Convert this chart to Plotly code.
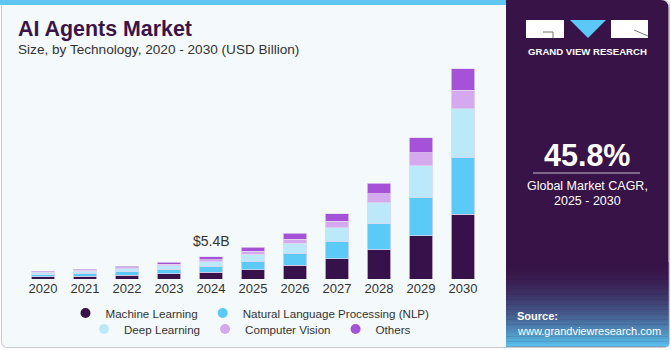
import plotly.graph_objects as go

# ---------------- data ----------------
years = ["2020", "2021", "2022", "2023", "2024", "2025", "2026", "2027", "2028", "2029", "2030"]
machine_learning = [0.58, 0.73, 0.95, 1.25, 1.64, 2.30, 3.35, 4.90, 7.20, 10.6, 15.8]
nlp = [0.51, 0.65, 0.83, 1.10, 1.42, 2.05, 2.95, 4.30, 6.30, 9.40, 14.0]
deep_learning = [0.42, 0.53, 0.68, 0.90, 1.15, 1.70, 2.40, 3.40, 5.20, 7.70, 11.8]
computer_vision = [0.18, 0.23, 0.30, 0.40, 0.50, 0.74, 1.05, 1.55, 2.10, 3.20, 4.60]
others = [0.21, 0.26, 0.34, 0.45, 0.69, 0.98, 1.40, 1.80, 2.60, 3.70, 5.20]

series_names = ["Machine Learning", "Natural Language Processing (NLP)",
                "Deep Learning", "Computer Vision", "Others"]
series_values = [machine_learning, nlp, deep_learning, computer_vision, others]
series_colors = ["#37114a", "#5ccaf6", "#bce9fa", "#d5a9ee", "#a652d8"]

highlight_year = "2024"
highlight_label = "$5.4B"
cagr_text = "45.8%"

# ---------------- layout geometry ----------------
W, H = 671, 350
ML, MR, MT, MB = 22, 187, 55, 71
PW = W - ML - MR
PH = H - MT - MB


def px(x):
    return (x - ML) / PW


def py(y):
    return (H - MB - y) / PH


xpos = list(range(len(years)))

fig = go.Figure()

for name, vals, col in zip(series_names, series_values, series_colors):
    fig.add_trace(go.Bar(
        x=xpos, y=vals, name=name, marker_color=col,
        marker_line=dict(color="rgba(225,215,240,0.9)", width=0.8),
        width=0.55, showlegend=False, hoverinfo="skip"))

# legend entries (circles)
for i, (name, col) in enumerate(zip(series_names, series_colors)):
    fig.add_trace(go.Scatter(
        x=[None], y=[None], mode="markers", name=name,
        marker=dict(color=col, size=10, symbol="circle"), hoverinfo="skip",
        legend="legend" if i < 2 else "legend2"))

totals = [sum(v) for v in zip(*series_values)]
hi = years.index(highlight_year)
fig.add_annotation(x=xpos[hi], y=totals[hi], text=highlight_label,
                   showarrow=False, yanchor="bottom", yshift=6,
                   font=dict(size=14, color="#333333", family="Liberation Sans, Arial"))

shapes = []


def path_rounded(x0, y0, x1, y1, rtl, rtr, rbr, rbl):
    s = f"M {px(x0 + rtl)},{py(y0)} L {px(x1 - rtr)},{py(y0)} "
    s += f"Q {px(x1)},{py(y0)} {px(x1)},{py(y0 + rtr)} "
    s += f"L {px(x1)},{py(y1 - rbr)} Q {px(x1)},{py(y1)} {px(x1 - rbr)},{py(y1)} "
    s += f"L {px(x0 + rbl)},{py(y1)} Q {px(x0)},{py(y1)} {px(x0)},{py(y1 - rbl)} "
    s += f"L {px(x0)},{py(y0 + rtl)} Q {px(x0)},{py(y0)} {px(x0 + rtl)},{py(y0)} Z"
    return s


# card background
shapes.append(dict(type="path", xref="paper", yref="paper", layer="below",
                   path=path_rounded(1.5, 0.5, 669.5, 347.5, 6, 6, 6, 6),
                   fillcolor="#f4f9fc", line=dict(color="#c9c9c9", width=1)))
# top blue stripe
shapes.append(dict(type="rect", xref="paper", yref="paper", layer="below",
                   x0=px(0), x1=px(507), y0=py(0), y1=py(5),
                   fillcolor="#5fc6ef", line=dict(width=0)))
# right panel
shapes.append(dict(type="path", xref="paper", yref="paper", layer="below",
                   path=path_rounded(506, 0, 668.5, 346.5, 0, 8, 4, 0),
                   fillcolor="#371347", line=dict(width=0)))


def lerp(c1, c2, t):
    a = [int(c1[i:i + 2], 16) for i in (1, 3, 5)]
    b = [int(c2[i:i + 2], 16) for i in (1, 3, 5)]
    return "rgb(%d,%d,%d)" % tuple(round(a[k] + (b[k] - a[k]) * t) for k in range(3))


n = 34
gy0, gy1 = 262, 346.5
for i in range(n):
    t = (i + 0.5) / n
    ya = gy0 + (gy1 - gy0) * i / n
    yb = gy0 + (gy1 - gy0) * (i + 1) / n + 0.3
    shapes.append(dict(type="rect", xref="paper", yref="paper", layer="below",
                       x0=px(506), x1=px(668.5), y0=py(ya), y1=py(min(yb, gy1)),
                       fillcolor=lerp("#371347", "#58c2ee", t ** 1.8), line=dict(width=0)))

# logo
shapes.append(dict(type="rect", xref="paper", yref="paper", x0=px(526), x1=px(564),
                   y0=py(20), y1=py(38), fillcolor="white", line=dict(width=0)))
shapes.append(dict(type="path", xref="paper", yref="paper",
                   path=f"M {px(570)},{py(20)} L {px(606)},{py(20)} L {px(588)},{py(38)} Z",
                   fillcolor="#5cc8f5", line=dict(width=0)))
shapes.append(dict(type="rect", xref="paper", yref="paper", x0=px(611), x1=px(648),
                   y0=py(20), y1=py(38), fillcolor="white", line=dict(width=0)))
shapes.append(dict(type="path", xref="paper", yref="paper",
                   path=f"M {px(543)},{py(32)} L {px(553)},{py(32)} L {px(553)},{py(38)}",
                   line=dict(color="#777777", width=1)))
shapes.append(dict(type="line", xref="paper", yref="paper", x0=px(634), x1=px(648),
                   y0=py(30), y1=py(36), line=dict(color="#777777", width=1)))
# CAGR underline
shapes.append(dict(type="line", xref="paper", yref="paper", x0=px(533), x1=px(640),
                   y0=py(173), y1=py(173), line=dict(color="#c8bcd2", width=1.2)))

fig.update_layout(shapes=shapes)

font_main = "Liberation Sans, Arial, sans-serif"


def ann(x, y, text, size, color, anchor="left", bold=False):
    fig.add_annotation(xref="paper", yref="paper", x=px(x), y=py(y),
                       text=f"<b>{text}</b>" if bold else text, showarrow=False,
                       xanchor=anchor, yanchor="middle",
                       font=dict(size=size, color=color, family=font_main))


ann(16, 29.5, "AI Agents Market", 21.4, "#3b1549", bold=True)
ann(16, 49, "Size, by Technology, 2020 - 2030 (USD Billion)", 13.6, "#333333")
ann(587.5, 51, "GRAND VIEW RESEARCH", 9.6, "white", anchor="center", bold=True)
ann(587, 155, cagr_text, 30.5, "white", anchor="center", bold=True)
ann(587, 186, "Global Market CAGR,", 12.5, "white", anchor="center")
ann(587, 201, "2025 - 2030", 12.5, "white", anchor="center")
ann(515, 316, "Source:", 11, "white", bold=True)
ann(515, 331, "www.grandviewresearch.com", 11, "white")

legend_common = dict(orientation="h", xanchor="center", yanchor="middle",
                     traceorder="normal",
                     bgcolor="rgba(0,0,0,0)", font=dict(size=11.6, color="#333333", family=font_main),
                     itemwidth=30, tracegroupgap=0)

fig.update_layout(
    width=W, height=H,
    margin=dict(l=ML, r=MR, t=MT, b=MB, pad=0, autoexpand=False),
    paper_bgcolor="white", plot_bgcolor="rgba(0,0,0,0)",
    barmode="stack",
    xaxis=dict(range=[-0.5, len(years) - 0.5], tickmode="array", tickvals=xpos, ticktext=years,
               showgrid=False, zeroline=False, showline=False,
               ticks="", tickfont=dict(size=13, color="#333333", family=font_main),
               fixedrange=True),
    yaxis=dict(range=[0, 54.8], visible=False, fixedrange=True),
    legend=dict(x=px(250), y=py(313), **legend_common),
    legend2=dict(x=px(250), y=py(329), **legend_common),
    showlegend=True,
)

fig.write_html("out.html", config={"displayModeBar": False})
